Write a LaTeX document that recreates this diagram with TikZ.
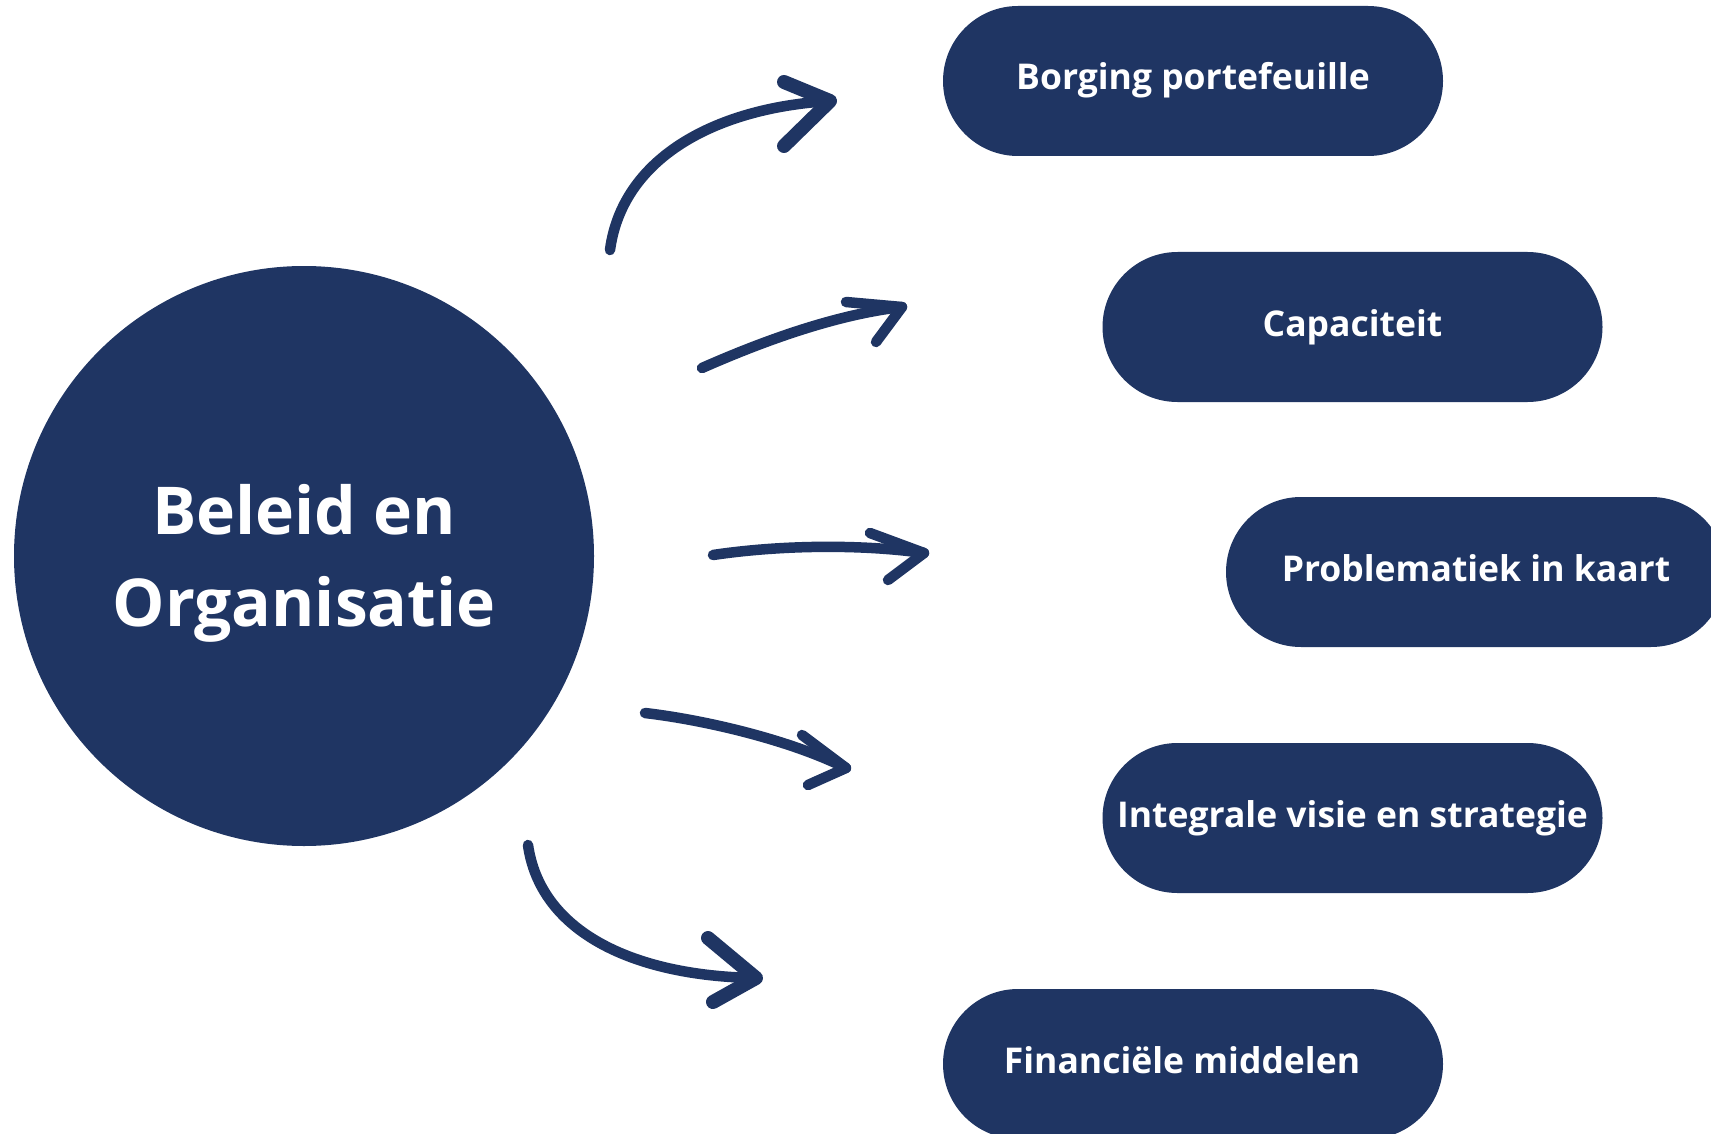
\documentclass[tikz,border=0pt]{standalone}
\usepackage{fontspec}
\setmainfont{Open Sans}
\usetikzlibrary{shapes.misc}
\definecolor{navy}{HTML}{1F3563}
\begin{document}
\begin{tikzpicture}[x=1pt,y=-1pt,
  pill/.style={rounded rectangle, fill=navy, minimum width=500pt, minimum height=150pt,
    inner sep=0pt, text=white, text height=27pt, text depth=9pt,
    font=\bfseries\fontsize{35.5}{40}\selectfont},
  hand/.style={draw=navy, line width=10.5pt, line cap=round, line join=round},
  brushhead/.style={hand, line width=14pt}]
\clip (0,0) rectangle (1711,1134);
\fill[white] (0,0) rectangle (1711,1134);
\node[circle, fill=navy, minimum size=580pt, inner sep=0pt] (main) at (304,556) {};
\node[text=white, align=center, font=\bfseries\fontsize{66}{92}\selectfont] (maintext) at (304,563) {Beleid en\\Organisatie};
\node[pill] (p1) at (1193,81) {Borging portefeuille};
\node[pill] (p2) at (1352.5,327) {Capaciteit};
\node[pill] (p3) at (1476,572) {Problematiek in kaart};
\node[pill] (p4) at (1352.5,818) {Integrale visie en strategie};
\node[pill] (p5) at (1193,1064) {Financiële middelen\kern22pt};
% arrow 1
\coordinate (a1s) at (610,250);
\coordinate (a1t) at (830,101);
\coordinate (a1u) at (784,82);
\coordinate (a1l) at (784,146);
\draw[hand] (a1s) .. controls (622,160) and (712,108) .. (a1t);
\draw[brushhead] (a1u) -- (a1t) -- (a1l);
% arrow 2
\coordinate (a2s) at (702,368);
\coordinate (a2t) at (902,307);
\coordinate (a2u) at (846,302);
\coordinate (a2l) at (876,342);
\draw[hand] (a2s) .. controls (770,338) and (840,314) .. (a2t);
\draw[hand] (a2u) -- (a2t) -- (a2l);
% arrow 3
\coordinate (a3s) at (713,555);
\coordinate (a3t) at (924,553);
\coordinate (a3u) at (870,533);
\coordinate (a3l) at (888,580);
\draw[hand] (a3s) .. controls (780,545) and (860,544) .. (a3t);
\draw[hand] (a3u) -- (a3t) -- (a3l);
% arrow 4
\coordinate (a4s) at (645,713);
\coordinate (a4t) at (846,768);
\coordinate (a4u) at (802,735);
\coordinate (a4l) at (808,785);
\draw[hand] (a4s) .. controls (705,720) and (790,740) .. (a4t);
\draw[hand] (a4u) -- (a4t) -- (a4l);
% arrow 5
\coordinate (a5s) at (528,845);
\coordinate (a5t) at (756,978);
\coordinate (a5u) at (708,938);
\coordinate (a5l) at (713,1002);
\draw[hand] (a5s) .. controls (540,930) and (630,976) .. (a5t);
\draw[brushhead] (a5u) -- (a5t) -- (a5l);
\end{tikzpicture}
\end{document}
